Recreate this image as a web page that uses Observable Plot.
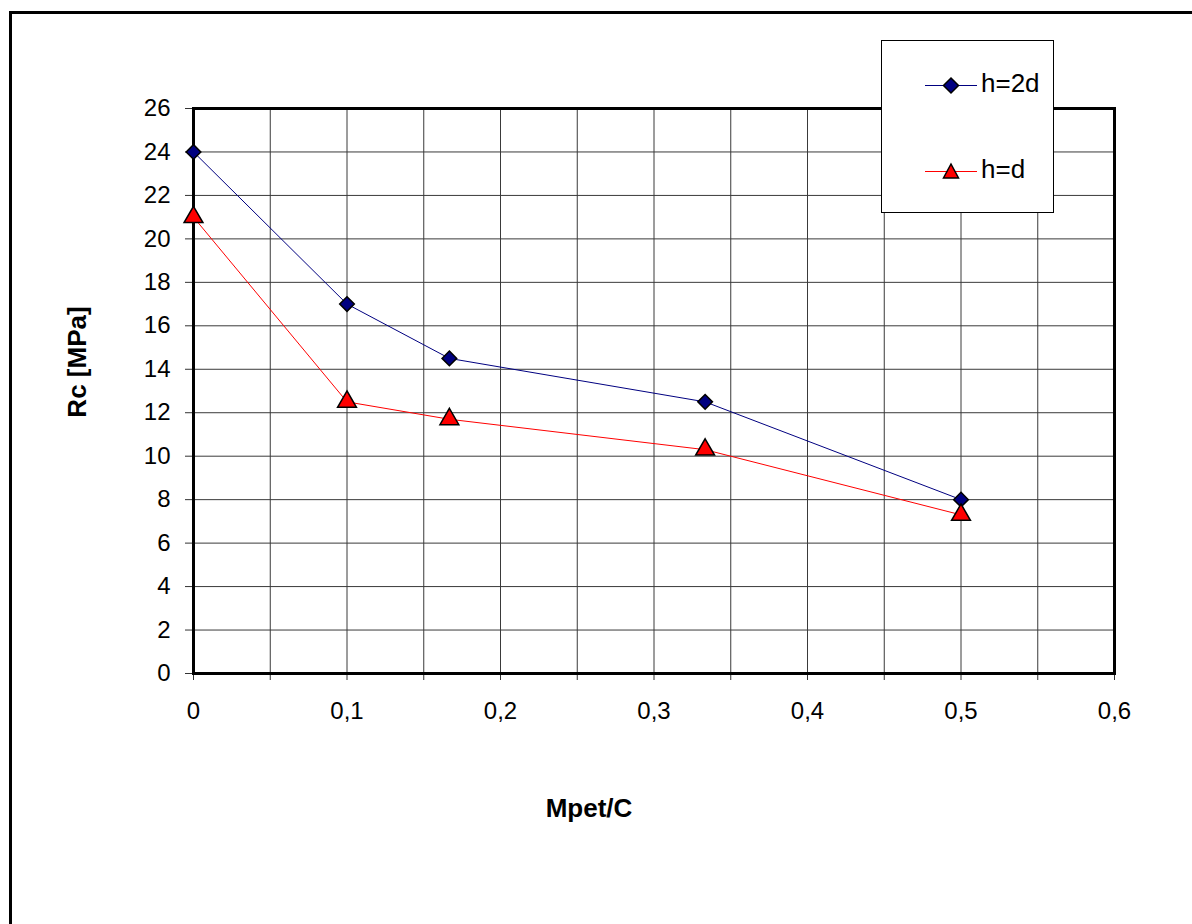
<!DOCTYPE html>
<html>
<head>
<meta charset="utf-8">
<script src="https://cdn.jsdelivr.net/npm/d3@7"></script>
<script src="https://cdn.jsdelivr.net/npm/@observablehq/plot@0.6"></script>
<style>
  html, body { margin: 0; padding: 0; background: #fff; }
  #wrap { position: relative; width: 1192px; height: 924px; overflow: hidden; font-family: "Liberation Sans", Arial, sans-serif; }
  #outer { position: absolute; left: 9px; top: 11px; width: 1200px; height: 1000px; border-left: 3px solid #000; border-top: 3px solid #000; box-sizing: border-box; }
  .title { position: absolute; font-weight: bold; font-size: 26px; line-height: 30px; color: #000; white-space: nowrap; }
  #legend { position: absolute; left: 881px; top: 40px; width: 173px; height: 173px; border: 1.5px solid #000; background: #fff; box-sizing: border-box; }
  #legend svg { position: absolute; left: 0; top: 0; }
  .ltxt { position: absolute; font-size: 26px; line-height: 30px; color: #000; white-space: nowrap; }
</style>
</head>
<body>
<div id="wrap">
  <div id="outer"></div>
  <div id="chart" style="position:absolute;left:0;top:0;"></div>
  <div class="title" id="xtitle" style="left:589px; top:793px; transform:translateX(-50%);">Mpet/C</div>
  <div class="title" id="ytitle" style="left:77px; top:362px; transform:translate(-50%,-50%) rotate(-90deg);">Rc [MPa]</div>
  <div id="legend"></div>
</div>
<script>
// Data
const xValues = [0, 0.1, 0.1667, 0.3333, 0.5];
const seriesNames = ["h=2d", "h=d"];
const h2dValues = [24, 17, 14.5, 12.5, 8];
const hdValues = [21, 12.5, 11.7, 10.3, 7.3];
const xTicks = [0, 0.05, 0.1, 0.15, 0.2, 0.25, 0.3, 0.35, 0.4, 0.45, 0.5, 0.55, 0.6];
const xTickLabels = ["0", "", "0,1", "", "0,2", "", "0,3", "", "0,4", "", "0,5", "", "0,6"];
const yTicks = [0, 2, 4, 6, 8, 10, 12, 14, 16, 18, 20, 22, 24, 26];

const rows = [];
xValues.forEach((x, i) => rows.push({series: seriesNames[0], x, y: h2dValues[i]}));
xValues.forEach((x, i) => rows.push({series: seriesNames[1], x, y: hdValues[i]}));
const r2d = rows.filter(d => d.series === seriesNames[0]);
const rd = rows.filter(d => d.series === seriesNames[1]);

const navy = "#000080";
const red = "#ff0000";

const chart = Plot.plot({
  width: 1192,
  height: 924,
  marginLeft: 193,
  marginRight: 78,
  marginTop: 108,
  marginBottom: 251,
  style: { fontFamily: "'Liberation Sans', Arial, sans-serif", fontSize: "24px", background: "transparent", color: "#000" },
  x: { domain: [0, 0.6], label: null },
  y: { domain: [0, 26], label: null },
  marks: [
    Plot.gridX(xTicks.slice(1, -1), { stroke: "#3a3a3a", strokeOpacity: 1, strokeWidth: 1 }),
    Plot.gridY(yTicks.slice(1, -1), { stroke: "#3a3a3a", strokeOpacity: 1, strokeWidth: 1 }),
    Plot.axisX(xTicks, {
      tickSize: 7, tickPadding: 21, stroke: "#333",
      tickFormat: d => xTickLabels[xTicks.findIndex(t => Math.abs(t - d) < 1e-9)],
      fontSize: 24, label: null
    }),
    Plot.axisY(yTicks, { tickSize: 8, tickPadding: 15, stroke: "#333", fontSize: 24, label: null }),
    Plot.frame({ stroke: "#000", strokeWidth: 3 }),
    Plot.line(r2d, { x: "x", y: "y", stroke: navy, strokeWidth: 1 }),
    Plot.line(rd, { x: "x", y: "y", stroke: red, strokeWidth: 1 }),
    Plot.dot(r2d, { x: "x", y: "y", symbol: "diamond2", r: 6.6, fill: navy, stroke: "#000", strokeWidth: 1.5 }),
    Plot.dot(rd, { x: "x", y: "y", symbol: "triangle", r: 7, fill: red, stroke: "#000", strokeWidth: 1.5 })
  ]
});
document.getElementById("chart").appendChild(chart);

// Legend (HTML + inline SVG symbols)
const legend = document.getElementById("legend");
const ns = "http://www.w3.org/2000/svg";
const lsvg = document.createElementNS(ns, "svg");
lsvg.setAttribute("width", 170);
lsvg.setAttribute("height", 170);
function el(name, attrs) {
  const e = document.createElementNS(ns, name);
  for (const k in attrs) e.setAttribute(k, attrs[k]);
  lsvg.appendChild(e);
  return e;
}
// h=2d entry (legend-local coords: box left 881, top 40)
el("line", { x1: 43, x2: 95, y1: 44.5, y2: 44.5, stroke: navy, "stroke-width": 1 });
el("polygon", { points: "69,37 76.5,44.5 69,52 61.5,44.5", fill: navy, stroke: "#000", "stroke-width": 1.5 });
// h=d entry
el("line", { x1: 43, x2: 95, y1: 130.5, y2: 130.5, stroke: red, "stroke-width": 1 });
el("polygon", { points: "69,123 76.5,137 61.5,137", fill: red, stroke: "#000", "stroke-width": 1.5 });
legend.appendChild(lsvg);
const t1 = document.createElement("div");
t1.className = "ltxt"; t1.textContent = seriesNames[0];
t1.style.left = "99px"; t1.style.top = "27px";
legend.appendChild(t1);
const t2 = document.createElement("div");
t2.className = "ltxt"; t2.textContent = seriesNames[1];
t2.style.left = "99px"; t2.style.top = "113px";
legend.appendChild(t2);
</script>
</body>
</html>
